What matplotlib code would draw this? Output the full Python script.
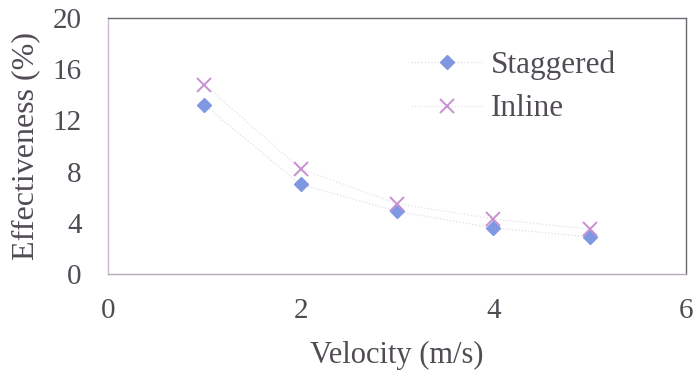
import matplotlib
matplotlib.use("Agg")
import matplotlib.pyplot as plt

velocity = [1, 2, 3, 4, 5]
staggered = [13.2, 7.0, 4.9, 3.6, 2.9]
inline = [14.8, 8.2, 5.5, 4.3, 3.5]
x_ticks = [0, 2, 4, 6]
y_ticks = [0, 4, 8, 12, 16, 20]

plt.rcParams['font.family'] = ['Liberation Serif', 'DejaVu Serif']
text_color = '#514b54'

W, H = 698, 377
fig = plt.figure(figsize=(W / 100, H / 100), dpi=100)
ax_l, ax_r, ax_t, ax_b = 108, 686, 18, 274
ax = fig.add_axes([ax_l / W, 1 - ax_b / H, (ax_r - ax_l) / W, (ax_b - ax_t) / H])

ax.plot(velocity, staggered, linestyle=':', color='#e2dce6', linewidth=0.9,
        marker='D', markersize=7.5, markerfacecolor='#8098e2',
        markeredgecolor='#8098e2', label='Staggered')
ax.plot(velocity, inline, linestyle=':', color='#e8dfea', linewidth=0.9,
        marker='x', markersize=10, markeredgewidth=1.4,
        markeredgecolor='#c890d2', label='Inline')

ax.set_xlim(0, 6)
ax.set_ylim(0, 20)
ax.set_xticks(x_ticks)
ax.set_yticks(y_ticks)
ax.tick_params(axis='y', length=0, labelsize=21, colors=text_color, pad=19)
ax.tick_params(axis='x', length=0, labelsize=21, colors=text_color, pad=17)

xl = ax.set_xlabel('Velocity (m/s)', fontsize=22, color=text_color)
yl = ax.set_ylabel('Effectiveness (%)', fontsize=23, color=text_color)
ax.xaxis.set_label_coords(0.5, (ax_b - 355) / (ax_b - ax_t))
xl.set_va('center')
ax.yaxis.set_label_coords((26 - ax_l) / (ax_r - ax_l), 0.5)
yl.set_va('center')

for side, c in [('left', '#cbbccf'), ('bottom', '#b4aab8'),
                ('top', '#6e6670'), ('right', '#6e6670')]:
    ax.spines[side].set_color(c)
    ax.spines[side].set_linewidth(1.0)

leg = fig.legend(loc='upper left', bbox_to_anchor=(411 / W, 1 - 50 / H),
                 frameon=False, fontsize=22.5, handlelength=2.3,
                 handletextpad=0.25, labelspacing=0.48, borderpad=0,
                 borderaxespad=0)
for t in leg.get_texts():
    t.set_color(text_color)

fig.savefig('out.png', dpi=100)
